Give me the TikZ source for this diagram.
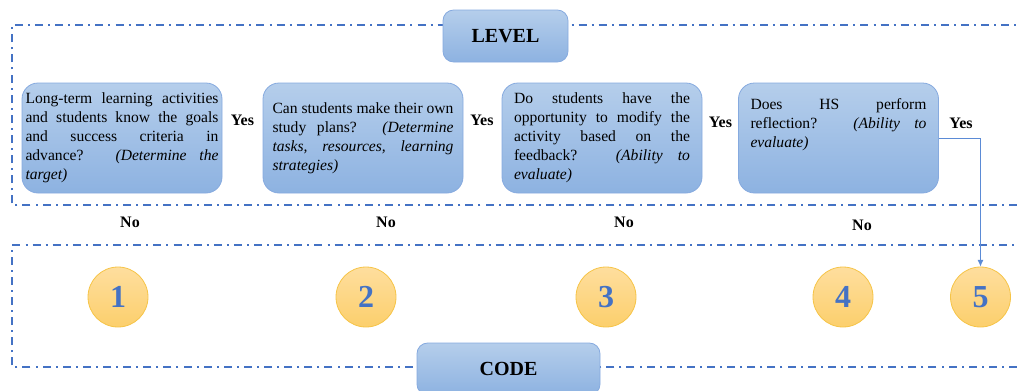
\documentclass[tikz,border=0pt]{standalone}
\usepackage{fontspec}
\setmainfont{Liberation Serif}
\usetikzlibrary{arrows.meta,shapes.geometric}

\definecolor{frameblue}{HTML}{4472C4}
\definecolor{boxtop}{HTML}{B5CEEB}
\definecolor{boxbot}{HTML}{8DB2E1}
\definecolor{boxedge}{HTML}{86AADF}
\definecolor{cirtop}{HTML}{FEDE9E}
\definecolor{cirbot}{HTML}{FCCF6C}
\definecolor{ciredge}{HTML}{F6C447}
\definecolor{numblue}{HTML}{4472C4}
\definecolor{arrowblue}{HTML}{5B8BD6}

% one fully justified line of a question (its own paragraph, no fill at the end)
\newcommand\jline[1]{\noindent\begingroup\parfillskip=0pt\relax #1\par\endgroup}
% the last, left-aligned line
\newcommand\lastline[1]{\noindent #1\par}

\tikzset{
  frame/.style={draw=frameblue, line width=1.1pt,
    dash pattern=on 6pt off 3.8pt on 1.5pt off 3.8pt},
  qbox/.style={draw=boxedge, line width=0.6pt, rounded corners=12pt,
    top color=boxtop, bottom color=boxbot,
    minimum width=150pt, minimum height=82.5pt, inner sep=0pt,
    align=justify, font=\fontsize{11.7}{14.25}\selectfont},
  tagbox/.style={draw=boxedge, line width=0.6pt, rounded corners=8pt,
    top color=boxtop, bottom color=boxbot,
    minimum height=39pt, inner sep=0pt,
    font=\fontsize{15}{15}\selectfont\bfseries},
  ans/.style={font=\fontsize{12}{12}\selectfont\bfseries, inner sep=0pt},
  codecircle/.style={circle, draw=ciredge, line width=0.6pt,
    top color=cirtop, bottom color=cirbot,
    minimum size=45pt, inner sep=0pt,
    font=\fontsize{24}{24}\selectfont\bfseries, text=numblue},
  flow/.style={draw=arrowblue, line width=0.7pt,
    -{Latex[length=5pt,width=4.5pt]}}
}

\begin{document}
\begin{tikzpicture}[x=0.75pt,y=-0.75pt]
\useasboundingbox (0,0) rectangle (1017,390);

% dash-dot frames of the two bands
\draw[frame] (1017,205) -- (12,205) -- (12,25) -- (1017,25);
\draw[frame] (1017,367) -- (12,367) -- (12,245) -- (1017,245);

% band titles
\node[tagbox, minimum width=93.75pt] (level) at (505.5,36) {LEVEL};
\node[tagbox, minimum width=137.25pt] (code) at (508.5,369) {CODE};

% questions
\node[qbox, text width=144.75pt] (q1) at (122,138) {%
  \jline{Long-term learning activities}
  \jline{and students know the goals}
  \jline{and success criteria in}
  \jline{advance? \textit{(Determine the}}
  \lastline{\textit{target)}}};
\node[qbox, text width=135.75pt] (q2) at (363,138) {%
  \jline{Can students make their own}
  \jline{study plans? \textit{(Determine}}
  \jline{\textit{tasks, resources, learning}}
  \lastline{\textit{strategies)}}};
\node[qbox, text width=132pt] (q3) at (602,138) {%
  \jline{Do students have the}
  \jline{opportunity to modify the}
  \jline{activity based on the}
  \jline{feedback? \textit{(Ability to}}
  \lastline{\textit{evaluate)}}};
% this text sits near the top of its box
\node[qbox, text width=132pt] (q4) at (838.5,138) {%
  \jline{Does HS perform}
  \jline{reflection? \textit{(Ability to}}
  \lastline{\textit{evaluate)}}
  \kern 20pt\relax};

% answers
\node[ans] (y1) at (242.5,120) {Yes};
\node[ans] (y2) at (482,120) {Yes};
\node[ans] (y3) at (720.5,122) {Yes};
\node[ans] (y4) at (961,123) {Yes};
\node[ans] (n1) at (130,222) {No};
\node[ans] (n2) at (386,222) {No};
\node[ans] (n3) at (624,222) {No};
\node[ans] (n4) at (862,225) {No};

% codes
\node[codecircle] (c1) at (118,297) {1};
\node[codecircle] (c2) at (366,297) {2};
\node[codecircle] (c3) at (606,297) {3};
\node[codecircle] (c4) at (843,297) {4};
\node[codecircle] (c5) at (980.5,297) {5};

% last question leads to the highest code
\draw[flow] (q4.east) -| (c5.north);
\end{tikzpicture}
\end{document}
